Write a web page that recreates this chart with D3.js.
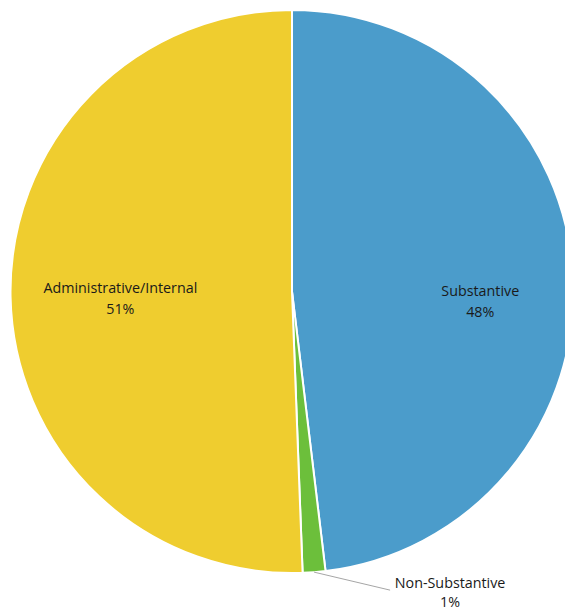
<!DOCTYPE html>
<html>
<head>
<meta charset="utf-8">
<script src="https://cdn.jsdelivr.net/npm/d3@7"></script>
<style>
  body { margin: 0; background: #fff; }
  svg text { font-family: "Open Sans", "Liberation Sans", sans-serif; font-size: 14.3px; fill: #1a1a1a; }
</style>
</head>
<body>
<script>
// Chart data
const categories = ["Substantive", "Non-Substantive", "Administrative/Internal"];
const values = [48.1, 1.3, 50.6];
const percentLabels = ["48%", "1%", "51%"];
const colours = ["#4B9CCB", "#6CBF3B", "#EFCD2F"];

// SVG dimensions
const width = 565, height = 611;
const cx = 292, cy = 291.5, radius = 281.5;

const svg = d3.select("body")
    .append("svg")
    .attr("width", width)
    .attr("height", height);

const render = svg.append("g")
    .attr("transform", `translate(${cx}, ${cy})`);

const data = categories.map((c, i) => ({ name: c, value: values[i], pct: percentLabels[i], colour: colours[i] }));

const pie = d3.pie()
    .sort(null)
    .value(d => d.value);

const arc = d3.arc()
    .innerRadius(0)
    .outerRadius(radius);

const arcs = pie(data);

// Slices
render.selectAll("path.slice")
    .data(arcs)
    .enter()
    .append("path")
    .attr("class", "slice")
    .attr("d", arc)
    .attr("fill", d => d.data.colour)
    .attr("stroke", "#fff")
    .attr("stroke-width", 2);

// Inside labels for the big slices: [radius ratio, vertical nudge]
const insidePlace = { "Substantive": [0.67, 22], "Administrative/Internal": [0.61, 4] };
const midAngle = d => (d.startAngle + d.endAngle) / 2;

const inside = render.selectAll("g.inside")
    .data(arcs.filter(d => insidePlace[d.data.name] !== undefined))
    .enter()
    .append("g")
    .attr("class", "inside")
    .attr("transform", d => {
        let [k, dy] = insidePlace[d.data.name];
        let r = radius * k;
        let a = midAngle(d);
        return `translate(${r * Math.sin(a)}, ${-r * Math.cos(a) + dy})`;
    });

inside.append("text")
    .attr("text-anchor", "middle")
    .attr("y", -6)
    .text(d => d.data.name);
inside.append("text")
    .attr("text-anchor", "middle")
    .attr("y", 15)
    .text(d => d.data.pct);

// Outside label with leader line for the small slice
const small = arcs.filter(d => insidePlace[d.data.name] === undefined);
small.forEach(d => {
    let a = midAngle(d);
    let x0 = radius * Math.sin(a), y0 = -radius * Math.cos(a);
    let x1 = x0 + 76, y1 = y0 + 18;
    render.append("line")
        .attr("x1", x0).attr("y1", y0)
        .attr("x2", x1).attr("y2", y1)
        .attr("stroke", "#a6a6a6")
        .attr("stroke-width", 1);
    let g = render.append("g")
        .attr("transform", `translate(${x1 + 60}, ${y1})`);
    g.append("text")
        .attr("text-anchor", "middle")
        .attr("y", -2)
        .text(d.data.name);
    g.append("text")
        .attr("text-anchor", "middle")
        .attr("y", 17)
        .text(d.data.pct);
});
</script>
</body>
</html>
